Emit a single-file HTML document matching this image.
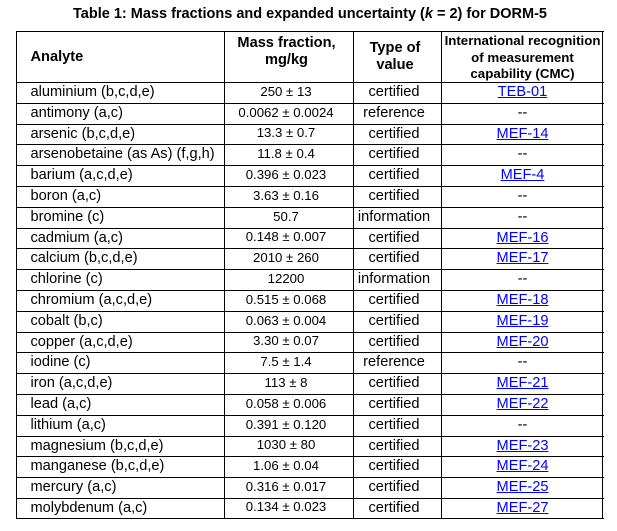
<!DOCTYPE html>
<html>
<head>
<meta charset="utf-8">
<style>
html,body{margin:0;padding:0;background:#fff;}
body{width:617px;height:531px;position:relative;overflow:hidden;font-family:"Liberation Sans",Arial,sans-serif;color:#000;}
.t{position:absolute;white-space:nowrap;}
.title{left:0;width:620px;top:6px;text-align:center;font-weight:bold;font-size:14.5px;line-height:17px;}
.h{position:absolute;left:16px;width:588px;height:1px;background:#000;}
.v{position:absolute;top:31px;height:488px;width:1px;background:#000;}
.hd{position:absolute;font-weight:bold;text-align:center;white-space:nowrap;}
.row{position:absolute;left:16px;width:588px;}
.row span{position:absolute;top:0px;white-space:nowrap;font-size:14.6px;}
.row .a{left:14.5px;top:-0.5px;}
.row .m{left:210px;width:120px;text-align:center;font-size:13.2px;top:-1px;}
.row .ty{left:328px;width:100px;text-align:center;}
.row .c{left:426px;width:161px;text-align:center;}
.row .c a{color:#0000ff;text-decoration:underline;}
</style>
</head>
<body>
<div class="t title">Table 1: Mass fractions and expanded uncertainty (<i>k</i> = 2) for DORM-5</div>

<!-- header -->
<div class="hd" style="left:30.5px;top:49px;font-size:14.6px;line-height:17px;text-align:left;">Analyte</div>
<div class="hd" style="left:226px;width:121px;top:34.5px;font-size:14.6px;line-height:17.5px;">Mass fraction,<br>mg/kg</div>
<div class="hd" style="left:345px;width:100px;top:40px;font-size:14.6px;line-height:17.3px;">Type of<br>value</div>
<div class="hd" style="left:442px;width:161px;top:33.2px;font-size:13.3px;line-height:16.4px;">International recognition<br>of measurement<br>capability (CMC)</div>

<!-- horizontal lines -->
<div class="h" style="top:31px"></div>
<div class="h" style="top:82px"></div>
<div class="h" style="top:103px"></div>
<div class="h" style="top:124px"></div>
<div class="h" style="top:144px"></div>
<div class="h" style="top:165px"></div>
<div class="h" style="top:186px"></div>
<div class="h" style="top:207px"></div>
<div class="h" style="top:228px"></div>
<div class="h" style="top:248px"></div>
<div class="h" style="top:269px"></div>
<div class="h" style="top:290px"></div>
<div class="h" style="top:311px"></div>
<div class="h" style="top:332px"></div>
<div class="h" style="top:352px"></div>
<div class="h" style="top:373px"></div>
<div class="h" style="top:394px"></div>
<div class="h" style="top:415px"></div>
<div class="h" style="top:436px"></div>
<div class="h" style="top:456px"></div>
<div class="h" style="top:477px"></div>
<div class="h" style="top:498px"></div>
<div class="h" style="top:518px"></div>

<!-- vertical lines -->
<div class="v" style="left:16px"></div>
<div class="v" style="left:224px"></div>
<div class="v" style="left:353px"></div>
<div class="v" style="left:441px"></div>
<div class="v" style="left:602px"></div>

<!-- rows -->
<div class="row" style="top:82px;height:21px;line-height:21px;"><span class="a">aluminium (b,c,d,e)</span><span class="m">250 ± 13</span><span class="ty">certified</span><span class="c"><a>TEB-01</a></span></div>
<div class="row" style="top:103px;height:21px;line-height:21px;"><span class="a">antimony (a,c)</span><span class="m">0.0062 ± 0.0024</span><span class="ty">reference</span><span class="c">--</span></div>
<div class="row" style="top:124px;height:20px;line-height:20px;"><span class="a">arsenic (b,c,d,e)</span><span class="m">13.3 ± 0.7</span><span class="ty">certified</span><span class="c"><a>MEF-14</a></span></div>
<div class="row" style="top:144px;height:21px;line-height:21px;"><span class="a">arsenobetaine (as As) (f,g,h)</span><span class="m">11.8 ± 0.4</span><span class="ty">certified</span><span class="c">--</span></div>
<div class="row" style="top:165px;height:21px;line-height:21px;"><span class="a">barium (a,c,d,e)</span><span class="m">0.396 ± 0.023</span><span class="ty">certified</span><span class="c"><a>MEF-4</a></span></div>
<div class="row" style="top:186px;height:21px;line-height:21px;"><span class="a">boron (a,c)</span><span class="m">3.63 ± 0.16</span><span class="ty">certified</span><span class="c">--</span></div>
<div class="row" style="top:207px;height:21px;line-height:21px;"><span class="a">bromine (c)</span><span class="m">50.7</span><span class="ty">information</span><span class="c">--</span></div>
<div class="row" style="top:228px;height:20px;line-height:20px;"><span class="a">cadmium (a,c)</span><span class="m">0.148 ± 0.007</span><span class="ty">certified</span><span class="c"><a>MEF-16</a></span></div>
<div class="row" style="top:248px;height:21px;line-height:21px;"><span class="a">calcium (b,c,d,e)</span><span class="m">2010 ± 260</span><span class="ty">certified</span><span class="c"><a>MEF-17</a></span></div>
<div class="row" style="top:269px;height:21px;line-height:21px;"><span class="a">chlorine (c)</span><span class="m">12200</span><span class="ty">information</span><span class="c">--</span></div>
<div class="row" style="top:290px;height:21px;line-height:21px;"><span class="a">chromium (a,c,d,e)</span><span class="m">0.515 ± 0.068</span><span class="ty">certified</span><span class="c"><a>MEF-18</a></span></div>
<div class="row" style="top:311px;height:21px;line-height:21px;"><span class="a">cobalt (b,c)</span><span class="m">0.063 ± 0.004</span><span class="ty">certified</span><span class="c"><a>MEF-19</a></span></div>
<div class="row" style="top:332px;height:20px;line-height:20px;"><span class="a">copper (a,c,d,e)</span><span class="m">3.30 ± 0.07</span><span class="ty">certified</span><span class="c"><a>MEF-20</a></span></div>
<div class="row" style="top:352px;height:21px;line-height:21px;"><span class="a">iodine (c)</span><span class="m">7.5 ± 1.4</span><span class="ty">reference</span><span class="c">--</span></div>
<div class="row" style="top:373px;height:21px;line-height:21px;"><span class="a">iron (a,c,d,e)</span><span class="m">113 ± 8</span><span class="ty">certified</span><span class="c"><a>MEF-21</a></span></div>
<div class="row" style="top:394px;height:21px;line-height:21px;"><span class="a">lead (a,c)</span><span class="m">0.058 ± 0.006</span><span class="ty">certified</span><span class="c"><a>MEF-22</a></span></div>
<div class="row" style="top:415px;height:21px;line-height:21px;"><span class="a">lithium (a,c)</span><span class="m">0.391 ± 0.120</span><span class="ty">certified</span><span class="c">--</span></div>
<div class="row" style="top:436px;height:20px;line-height:20px;"><span class="a">magnesium (b,c,d,e)</span><span class="m">1030 ± 80</span><span class="ty">certified</span><span class="c"><a>MEF-23</a></span></div>
<div class="row" style="top:456px;height:21px;line-height:21px;"><span class="a">manganese (b,c,d,e)</span><span class="m">1.06 ± 0.04</span><span class="ty">certified</span><span class="c"><a>MEF-24</a></span></div>
<div class="row" style="top:477px;height:21px;line-height:21px;"><span class="a">mercury (a,c)</span><span class="m">0.316 ± 0.017</span><span class="ty">certified</span><span class="c"><a>MEF-25</a></span></div>
<div class="row" style="top:498px;height:20px;line-height:20px;"><span class="a">molybdenum (a,c)</span><span class="m">0.134 ± 0.023</span><span class="ty">certified</span><span class="c"><a>MEF-27</a></span></div>
</body>
</html>
